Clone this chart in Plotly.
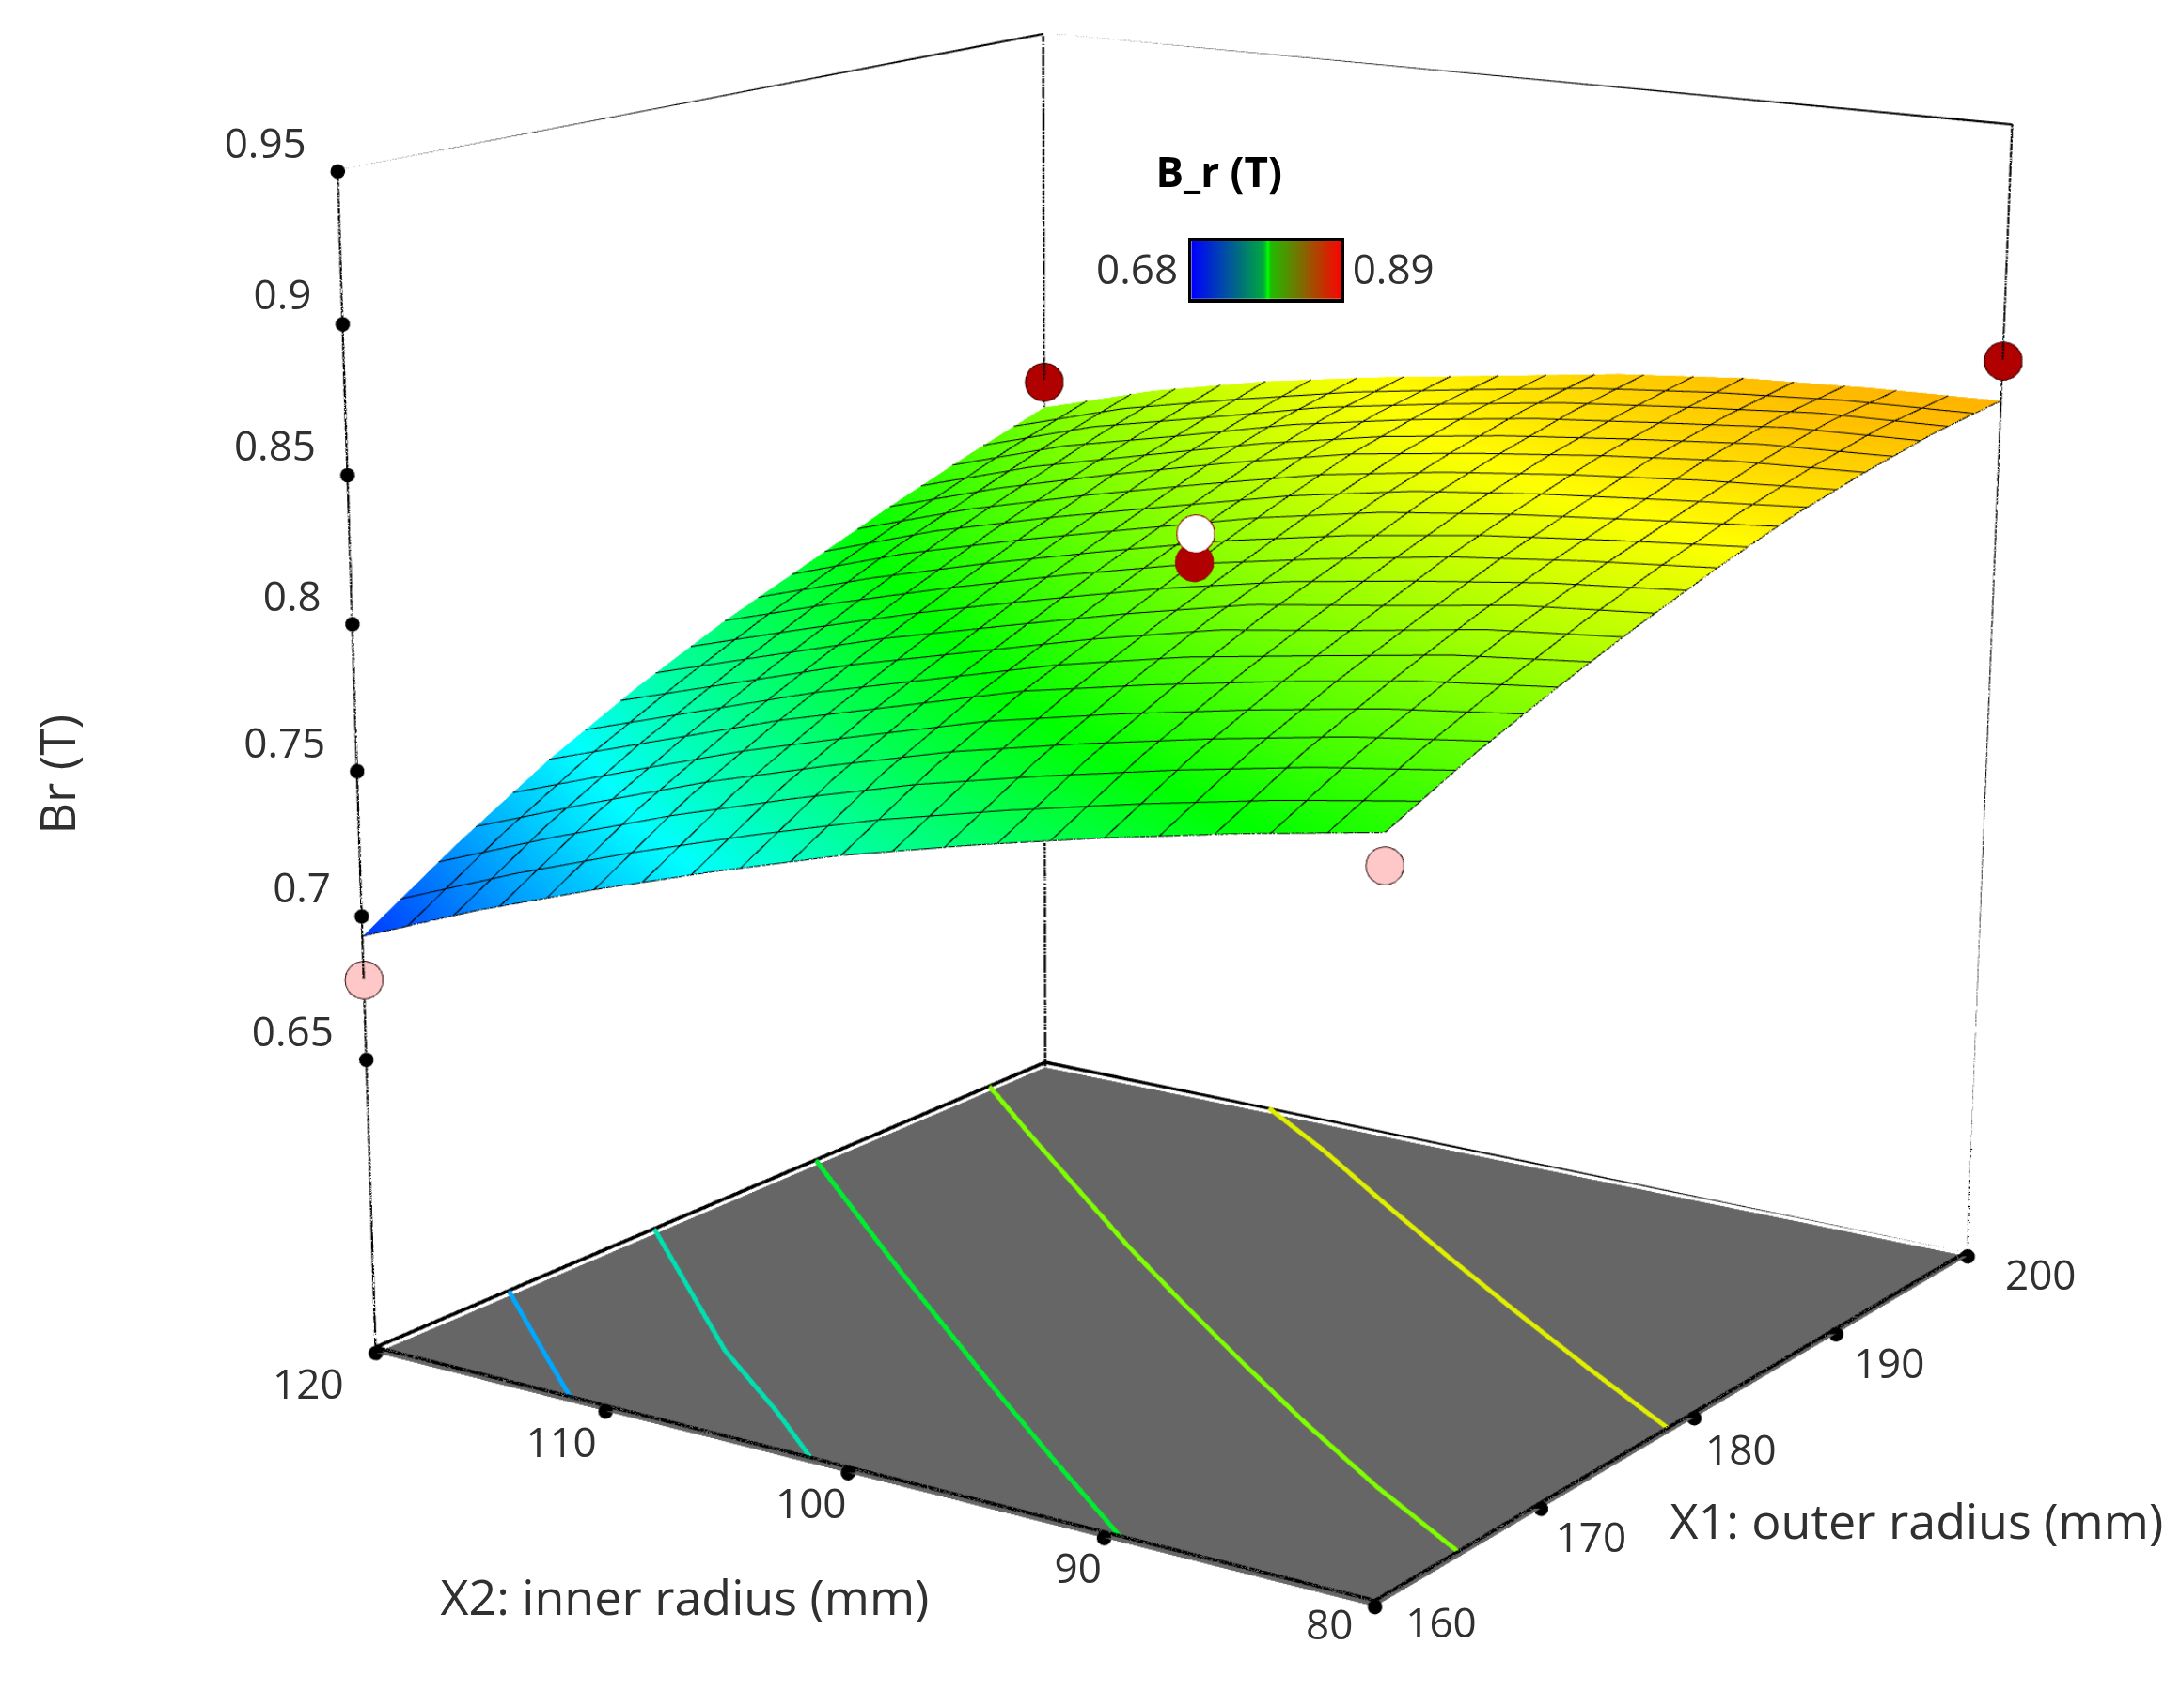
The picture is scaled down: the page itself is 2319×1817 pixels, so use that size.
import plotly.graph_objects as go

# ---------- data ----------
x1_grid = [160, 165, 170, 175, 180, 185, 190, 195, 200]
x2_grid = [80, 85, 90, 95, 100, 105, 110, 115, 120]
br_surface = [
 [.790,.803,.814,.824,.833,.841,.847,.852,.855],
 [.782,.797,.809,.820,.829,.837,.845,.851,.854],
 [.773,.789,.802,.813,.824,.833,.841,.847,.852],
 [.763,.780,.794,.807,.817,.828,.836,.843,.848],
 [.752,.770,.785,.797,.809,.820,.830,.837,.842],
 [.739,.758,.773,.786,.799,.810,.821,.830,.836],
 [.725,.745,.761,.775,.788,.800,.811,.820,.829],
 [.710,.730,.747,.762,.776,.789,.800,.811,.820],
 [.693,.714,.733,.749,.763,.775,.787,.798,.808],
]
contour_720_x1 = [167.1, 162.9, 160]
contour_720_x2 = [120, 115, 111.5]
contour_745_x1 = [175.3, 170.9, 166.5, 162.8, 160]
contour_745_x2 = [120, 115, 110, 105, 101.5]
contour_770_x1 = [185, 180.8, 176.6, 172.5, 168.4, 164.4, 160]
contour_770_x2 = [120, 115, 110, 105, 100, 95, 89.4]
contour_795_x1 = [196.2, 191.9, 187.7, 183.5, 179.5, 175.6, 171.8, 168.2, 164.9]
contour_795_x2 = [120, 115, 110, 105, 100, 95, 90, 85, 80]
contour_820_x1 = [200, 196.7, 192.8, 189, 185.3, 181.7, 178.2]
contour_820_x2 = [109.6, 105, 100, 95, 90, 85, 80]
contour_colors = ['#00a8ff', '#00e0b0', '#00ee30', '#80ff00', '#e0f000']

z_ticks = [0.65, 0.7, 0.75, 0.8, 0.85, 0.9, 0.95]
x1_ticks = [160, 170, 180, 190, 200]
x2_ticks = [120, 110, 100, 90, 80]
z_floor = 0.5457
z_top = 0.95

design_x1 = [178.4, 200, 200, 160, 160, 176.8]
design_x2 = [98.9, 80, 120, 120, 80, 97.8]
design_br = [0.814, 0.869, 0.818, 0.678, 0.78, 0.828]
design_fill = ['#b00000', '#b00000', '#b00000', '#ffc8c8', '#ffc8c8', 'white']
design_edge = ['#900000', '#300000', '#300000', '#301010', '#301010', '#900000']
design_ring = [2, 2, 2, 2, 2, 4]

legend_vals = [.68,.69,.70,.71,.72,.73,.74,.75,.76,.77,.78,.785,.79,.80,.81,.82,.83,.84,.85,.86,.87,.88,.89]

# ---------- figure ----------
W, H, K, R = 2319, 1817, 3.0, 1.75
s = K / R
S = W / 1568
def px(x): return (x * S + (K - 1) / 2 * W) / (K * W)
def py(y): return 1 - (y * S + (K - 1) / 2 * H) / (K * H)

cs = [[0,'rgb(0,0,255)'],[.27,'rgb(0,255,255)'],[.49,'rgb(0,255,0)'],[.74,'rgb(255,255,0)'],[.84,'rgb(255,175,0)'],[1,'rgb(255,0,0)']]
flat = dict(ambient=1, diffuse=0, specular=0, roughness=1, fresnel=0)
fig = go.Figure()
fig.add_trace(go.Surface(x=x1_grid, y=x2_grid, z=br_surface, cmin=.68, cmax=.89, colorscale=cs, showscale=False, lighting=flat, hoverinfo='skip',
    contours=dict(x=dict(show=True, start=160, end=200, size=2, color='black', width=4),
                  y=dict(show=True, start=80, end=120, size=2, color='black', width=4))))
fig.add_trace(go.Mesh3d(x=[160,160,200,200], y=[120,80,80,120], z=[z_floor]*4, i=[0,0], j=[1,2], k=[2,3], color='#666666', flatshading=True, lighting=flat, hoverinfo='skip'))
contours = [(contour_720_x1,contour_720_x2),(contour_745_x1,contour_745_x2),(contour_770_x1,contour_770_x2),(contour_795_x1,contour_795_x2),(contour_820_x1,contour_820_x2)]
for (cx, cy), c in zip(contours, contour_colors):
    fig.add_trace(go.Scatter3d(x=cx, y=cy, z=[z_floor+.002]*len(cx), mode='lines', line=dict(color=c, width=4.5), hoverinfo='skip', showlegend=False))
def seg(xs, ys, zs, w):
    fig.add_trace(go.Scatter3d(x=xs, y=ys, z=zs, mode='lines', line=dict(color='black', width=w), hoverinfo='skip', showlegend=False))
seg([160,160,200,200], [120,120,120,80], [z_floor,z_top,z_top,z_top], 2.2)
seg([200,200], [120,120], [z_floor,z_top], 2.2)
seg([200,200], [80,80], [z_floor,z_top], 2.2)
seg([160,160,200,200,160], [120,80,80,120,120], [z_floor+.002]*5, 3.5)
fig.add_trace(go.Scatter3d(x=[160]*len(z_ticks)+[160]*5+x1_ticks, y=[120]*len(z_ticks)+x2_ticks+[80]*5, z=z_ticks+[z_floor]*10,
    mode='markers', marker=dict(color='black', size=4.2), hoverinfo='skip', showlegend=False))
for a, c, z, f, e, rw in zip(design_x1, design_x2, design_br, design_fill, design_edge, design_ring):
    fig.add_trace(go.Scatter3d(x=[a], y=[c], z=[z], mode='markers', marker=dict(color=f, size=11, line=dict(color=e, width=rw)), hoverinfo='skip', showlegend=False))

tf = dict(family='Open Sans', size=44/s, color='#303030')
tt = dict(family='Open Sans', size=52/s, color='#303030')
ann = []
for v in z_ticks: ann.append(dict(x=160, y=120, z=v, text=f'{v:g}', showarrow=False, xanchor='right', xshift=-30/s, yshift=31/s, font=tf))
x2_dx = [-5, 12, 17, 25, 10]; x2_dy = [0, 0, 0, 0, 9]
for v, dx, dy in zip(x2_ticks, x2_dx, x2_dy): ann.append(dict(x=160, y=v, z=z_floor, text=str(v), showarrow=False, xshift=(-64+dx*S)/s, yshift=(-32+dy*S)/s, font=tf))
x1_dx = [3, -9, -11, -6, 8]; x1_dy = [9, 0, -2, 0, 7]
for v, dx, dy in zip(x1_ticks, x1_dx, x1_dy): ann.append(dict(x=v, y=80, z=z_floor, text=str(v), showarrow=False, xshift=(66+dx*S)/s, yshift=(-30+dy*S)/s, font=tf))
pa = [dict(x=px(1379), y=py(1094), text='X1: outer radius (mm)', font=tt),
      dict(x=px(493), y=py(1148), text='X2: inner radius (mm)', font=tt),
      dict(x=px(41), y=py(557), text='Br (T)', textangle=-90, font=tt),
      dict(x=px(877), y=py(124), text='<b>B_r (T)</b>', font=dict(family='Open Sans', size=44/s, color='black')),
      dict(x=px(818), y=py(193), text='0.68', font=tf),
      dict(x=px(1003), y=py(193), text='0.89', font=tf)]
for a in pa: a.update(xref='paper', yref='paper', showarrow=False, xanchor='center', yanchor='middle')
fig.add_trace(go.Heatmap(x=legend_vals, y=[0,1], z=[legend_vals,legend_vals], zmin=.68, zmax=.89, showscale=False, zsmooth='best', hoverinfo='skip',
    colorscale=[[0,'rgb(0,0,255)'],[.48,'rgb(0,170,60)'],[.5,'rgb(0,255,0)'],[.52,'rgb(30,190,0)'],[1,'rgb(255,0,0)']]))
# z range extended a little under the floor so the floor does not fight with the scene's own bounding plane
z_low = 0.5257
cam = dict(eye=dict(x=-4.2652,y=-2.829,z=1.3207), center=dict(x=-0.1076,y=0.0319,z=-0.05655), up=dict(x=0.0024,y=-0.0017,z=1))
ax2 = dict(showticklabels=False, ticks='', showgrid=False, zeroline=False, showline=True, linecolor='black', linewidth=3/s, mirror=True)
off = dict(visible=False, showbackground=False, showspikes=False, showgrid=False, zeroline=False)
fig.update_layout(width=round(R*W), height=round(R*H), margin=dict(l=0,r=0,t=0,b=0), paper_bgcolor='white', plot_bgcolor='white', showlegend=False, annotations=pa,
    xaxis=dict(domain=[px(857),px(965)], anchor='y', range=[.68,.89], **ax2),
    yaxis=dict(domain=[py(215),py(173)], anchor='x', range=[0,1], **ax2),
    scene=dict(domain=dict(x=[0,1],y=[0,1]), bgcolor='rgba(0,0,0,0)', camera=cam, aspectmode='manual', aspectratio=dict(x=1,y=1.0064,z=1.0671), annotations=ann,
        xaxis=dict(range=[160,200], **off), yaxis=dict(range=[80,120], **off), zaxis=dict(range=[z_low,z_top], **off)))
post = f"""var gd=document.getElementById('{{plot_id}}');document.documentElement.style.overflow='hidden';document.body.style.margin='0';document.body.style.overflow='hidden';gd.style.position='fixed';gd.style.left='{-(K-1)*W/2}px';gd.style.top='{-(K-1)*H/2}px';gd.style.transformOrigin='0 0';gd.style.transform='scale({s})';"""
fig.write_html('out.html', post_script=post, config=dict(displayModeBar=False))
